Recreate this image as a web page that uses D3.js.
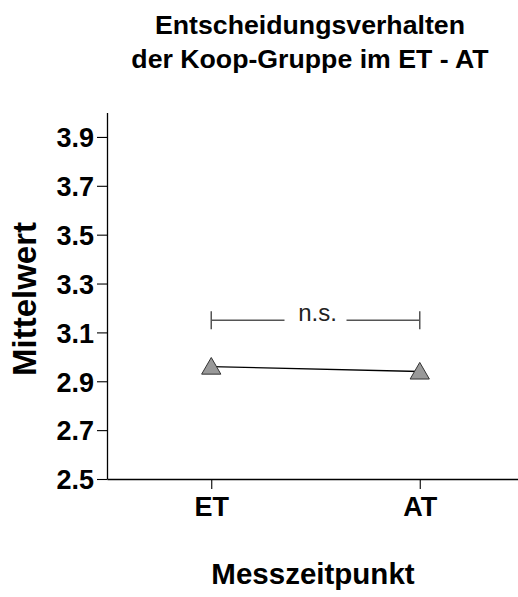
<!DOCTYPE html>
<html>
<head>
<meta charset="utf-8">
<script src="https://cdn.jsdelivr.net/npm/d3@7"></script>
<style>
  html, body { margin: 0; padding: 0; background: #fff; }
  svg { display: block; font-family: "Liberation Sans", Arial, Helvetica, sans-serif; }
</style>
</head>
<body>
<svg id="chart" width="518" height="597"></svg>
<script>
// Mean decision behaviour of the cooperation group at two measurement points
const titleLines = ["Entscheidungsverhalten", "der Koop-Gruppe im ET - AT"];
const timepoints = ["ET", "AT"];
const means = [2.96, 2.94];
const yTicks = [2.5, 2.7, 2.9, 3.1, 3.3, 3.5, 3.7, 3.9];
const yDomain = [2.5, 4.0];
const sigLabel = "n.s.";
const sigLevel = 3.15;
const xTitle = "Messzeitpunkt";
const yTitle = "Mittelwert";

const svg = d3.select("#chart");
const plot = { left: 107, top: 112.5, right: 524, bottom: 479 };

const x = d3.scalePoint()
  .domain(timepoints)
  .range([plot.left, plot.right])
  .padding(0.5);
const y = d3.scaleLinear().domain(yDomain).range([plot.bottom, plot.top]);

// Title
svg.append("text")
  .attr("x", 311).attr("y", 34)
  .attr("text-anchor", "middle")
  .attr("font-size", 26.7).attr("font-weight", "bold")
  .selectAll("tspan").data(titleLines).join("tspan")
  .attr("x", 310).attr("dy", (d, i) => i === 0 ? 0 : 34)
  .text(d => d);

// Y axis
const yAxis = svg.append("g")
  .attr("transform", `translate(${plot.left},0)`)
  .call(d3.axisLeft(y).tickValues(yTicks).tickFormat(d3.format(".1f")).tickSize(10).tickPadding(3).tickSizeOuter(0));
yAxis.select(".domain").attr("stroke", "#000").attr("stroke-width", 1.3);
yAxis.selectAll(".tick line").attr("stroke", "#000").attr("stroke-width", 1.1);
yAxis.selectAll(".tick text")
  .attr("font-size", 27).attr("font-weight", "bold").attr("fill", "#000")
  .attr("font-family", "'Liberation Sans', Arial, sans-serif")
  .attr("dy", "0.36em");

// X axis
const xAxis = svg.append("g")
  .attr("transform", `translate(0,${plot.bottom})`)
  .call(d3.axisBottom(x).tickSize(10).tickPadding(8).tickSizeOuter(0));
xAxis.select(".domain").attr("stroke", "#000").attr("stroke-width", 1.3);
xAxis.selectAll(".tick line").attr("stroke", "#000").attr("stroke-width", 1.1);
xAxis.selectAll(".tick text")
  .attr("font-size", 27).attr("font-weight", "bold").attr("fill", "#000")
  .attr("font-family", "'Liberation Sans', Arial, sans-serif");

// Axis titles
svg.append("text")
  .attr("x", 313).attr("y", 584)
  .attr("text-anchor", "middle")
  .attr("font-size", 29.5).attr("font-weight", "bold")
  .text(xTitle);
svg.append("text")
  .attr("transform", "translate(36,299) rotate(-90)")
  .attr("text-anchor", "middle")
  .attr("font-size", 33).attr("font-weight", "bold")
  .text(yTitle);

// Significance bracket
const sig = svg.append("g").attr("stroke", "#555").attr("stroke-width", 1.5).attr("fill", "none");
const bx0 = x(timepoints[0]), bx1 = x(timepoints[1]), by = y(sigLevel);
const midX = (bx0 + bx1) / 2;
sig.append("line").attr("x1", bx0).attr("x2", bx0).attr("y1", by - 9).attr("y2", by + 9);
sig.append("line").attr("x1", bx1).attr("x2", bx1).attr("y1", by - 9).attr("y2", by + 9);
sig.append("line").attr("x1", bx0).attr("x2", midX - 31).attr("y1", by).attr("y2", by);
sig.append("line").attr("x1", midX + 31).attr("x2", bx1).attr("y1", by).attr("y2", by);
svg.append("text")
  .attr("x", midX + 2).attr("y", by + 1)
  .attr("text-anchor", "middle")
  .attr("font-size", 24).attr("fill", "#222")
  .text(sigLabel);

// Mean line and markers
const pts = timepoints.map((t, i) => ({ t, v: means[i] }));
svg.append("path")
  .datum(pts)
  .attr("fill", "none").attr("stroke", "#000").attr("stroke-width", 1.3)
  .attr("d", d3.line().x(d => x(d.t)).y(d => y(d.v)));
svg.selectAll(".marker").data(pts).join("path")
  .attr("class", "marker")
  .attr("transform", d => `translate(${x(d.t)},${y(d.v) + 2})`)
  .attr("d", d3.symbol(d3.symbolTriangle, 160))
  .attr("fill", "#999").attr("stroke", "#333").attr("stroke-width", 1);
</script>
</body>
</html>
